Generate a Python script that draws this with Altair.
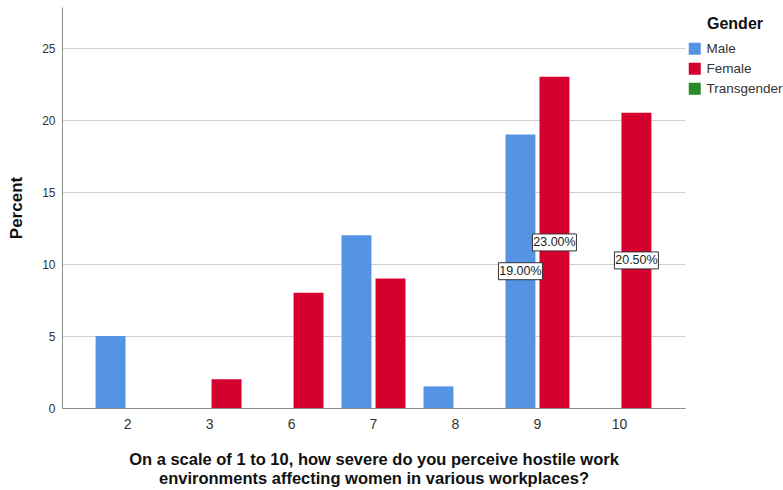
import altair as alt
import pandas as pd

# Scores on the 1-10 scale that received responses
score_order = ["2", "3", "6", "7", "8", "9", "10"]
genders = ["Male", "Female", "Transgender"]
gender_colors = ["#5594E4", "#D6002F", "#2A8A2A"]

# Percent of each gender choosing a score
male_scores = ["2", "7", "8", "9"]
male_pct = [5, 12, 1.5, 19]
female_scores = ["3", "6", "7", "9", "10"]
female_pct = [2, 8, 9, 23, 20.5]

rows = (
    [{"score": s, "gender": "Male", "pct": p} for s, p in zip(male_scores, male_pct)]
    + [{"score": s, "gender": "Female", "pct": p} for s, p in zip(female_scores, female_pct)]
)
df = pd.DataFrame(rows)

FONT = "Liberation Sans"

x_enc = alt.X(
    "score:N",
    sort=score_order,
    scale=alt.Scale(domain=score_order, paddingInner=0.22, paddingOuter=0.41),
    axis=alt.Axis(
        title=[
            "On a scale of 1 to 10, how severe do you perceive hostile work",
            "environments affecting women in various workplaces?",
        ],
        labelAngle=0,
        ticks=False,
        labelPadding=9,
        labelFontSize=14,
        titleFontSize=16.5,
        titleFontWeight="bold",
        titleLineHeight=19,
        titlePadding=20,
    ),
)
xoff_enc = alt.XOffset(
    "gender:N",
    scale=alt.Scale(domain=["Male", "Female"], paddingInner=0.12, paddingOuter=0),
)
y_scale = alt.Scale(domain=[0, 27.85], nice=False, zero=True)

bars = alt.Chart(df).mark_bar().encode(
    x=x_enc,
    xOffset=xoff_enc,
    y=alt.Y(
        "pct:Q",
        scale=y_scale,
        axis=alt.Axis(
            title="Percent",
            values=[0, 5, 10, 15, 20, 25],
            ticks=False,
            labelPadding=7,
            labelFontSize=12,
            titleFontSize=17,
            titleFontWeight="bold",
            titlePadding=16,
            grid=True,
        ),
    ),
    color=alt.Color(
        "gender:N",
        scale=alt.Scale(domain=genders, range=gender_colors),
        legend=alt.Legend(
            title="Gender",
            orient="none",
            legendX=626,
            legendY=9,
            titleFontSize=16,
            titleFontWeight="bold",
            titleAnchor="middle",
            titlePadding=10,
            symbolType="square",
            symbolSize=144,
            symbolStrokeWidth=0,
            labelFontSize=13.5,
            labelOffset=5,
            rowPadding=5,
        ),
    ),
)

labelled = alt.Chart(df).transform_filter("datum.pct >= 15").transform_calculate(
    mid="datum.pct / 2",
    txt="format(datum.pct, '.2f') + '%'",
)

boxes = labelled.mark_point(
    shape="M-1,-0.386L1,-0.386L1,0.386L-1,0.386Z",
    size=1936,
    filled=True,
    fill="white",
    stroke="#333333",
    strokeWidth=1,
    opacity=1,
).encode(x=x_enc, xOffset=xoff_enc, y=alt.Y("mid:Q", scale=y_scale))

texts = labelled.mark_text(fontSize=12.5, color="#222222", font=FONT).encode(
    x=x_enc, xOffset=xoff_enc, y=alt.Y("mid:Q", scale=y_scale), text="txt:N"
)

chart = (
    alt.layer(bars, boxes, texts)
    .properties(
        width=623,
        height=401,
        autosize=alt.AutoSizeParams(type="none"),
        padding={"left": 62, "top": 7, "right": 98, "bottom": 82},
    )
    .configure(font=FONT, background="white")
    .configure_view(stroke=None)
    .configure_axis(
        domainColor="#8C8C8C",
        domainWidth=1,
        gridColor="#CFCFCF",
        labelColor="#333333",
        titleColor="#111111",
        labelFont=FONT,
        titleFont=FONT,
    )
    .configure_legend(labelFont=FONT, titleFont=FONT, labelColor="#333333", titleColor="#111111")
)

chart.save("out.html", embed_options={"renderer": "svg", "actions": False})
